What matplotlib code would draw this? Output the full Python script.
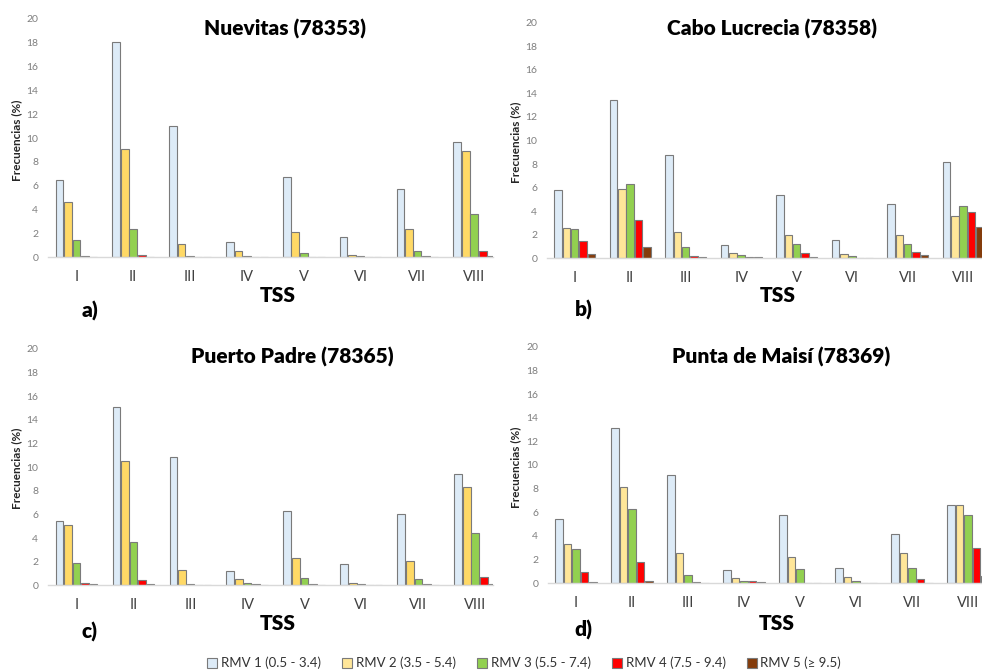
import matplotlib
matplotlib.use("Agg")
import matplotlib.pyplot as plt
import numpy as np

plt.rcParams["font.family"] = ["Lato", "DejaVu Sans"]

# ---------------------------------------------------------------------------
# Data: frequency (%) per TSS class, one list per RMV class
# ---------------------------------------------------------------------------
TSS = ["I", "II", "III", "IV", "V", "VI", "VII", "VIII"]
RMV_LABELS = ["RMV 1 (0.5 - 3.4)", "RMV 2 (3.5 - 5.4)", "RMV 3 (5.5 - 7.4)",
              "RMV 4 (7.5 - 9.4)", "RMV 5 (\u2265 9.5)"]

nuevitas_rmv1 = [6.5, 18.1, 11.0, 1.3, 6.7, 1.7, 5.7, 9.7]
nuevitas_rmv2 = [4.6, 9.1, 1.1, 0.5, 2.1, 0.2, 2.4, 8.9]
nuevitas_rmv3 = [1.45, 2.4, 0.14, 0.14, 0.34, 0.08, 0.56, 3.6]
nuevitas_rmv4 = [0.14, 0.2, 0.0, 0.0, 0.0, 0.0, 0.08, 0.56]
nuevitas_rmv5 = [0.0, 0.0, 0.0, 0.0, 0.0, 0.0, 0.0, 0.1]

cabo_rmv1 = [5.8, 13.4, 8.8, 1.15, 5.4, 1.55, 4.65, 8.2]
cabo_rmv2 = [2.6, 5.9, 2.2, 0.45, 2.0, 0.37, 2.0, 3.6]
cabo_rmv3 = [2.45, 6.3, 0.95, 0.25, 1.2, 0.17, 1.25, 4.4]
cabo_rmv4 = [1.5, 3.25, 0.2, 0.14, 0.42, 0.0, 0.5, 3.95]
cabo_rmv5 = [0.4, 1.0, 0.08, 0.14, 0.14, 0.0, 0.25, 2.65]

padre_rmv1 = [5.45, 15.1, 10.85, 1.2, 6.3, 1.8, 6.05, 9.4]
padre_rmv2 = [5.1, 10.5, 1.3, 0.55, 2.35, 0.2, 2.05, 8.3]
padre_rmv3 = [1.85, 3.65, 0.11, 0.2, 0.6, 0.08, 0.55, 4.4]
padre_rmv4 = [0.2, 0.45, 0.0, 0.08, 0.08, 0.0, 0.08, 0.7]
padre_rmv5 = [0.08, 0.08, 0.0, 0.0, 0.0, 0.0, 0.0, 0.1]

maisi_rmv1 = [5.4, 13.15, 9.15, 1.13, 5.8, 1.32, 4.2, 6.65]
maisi_rmv2 = [3.35, 8.1, 2.55, 0.45, 2.2, 0.56, 2.6, 6.6]
maisi_rmv3 = [2.87, 6.25, 0.73, 0.17, 1.18, 0.23, 1.32, 5.8]
maisi_rmv4 = [0.93, 1.77, 0.11, 0.17, 0.06, 0.06, 0.39, 2.95]
maisi_rmv5 = [0.08, 0.23, 0.0, 0.11, 0.0, 0.0, 0.06, 0.62]

# ---------------------------------------------------------------------------
# Styling
# ---------------------------------------------------------------------------
W, H = 982, 670
BLUE = "#DDEBF7"
YELLOW_DARK = "#FFD966"
YELLOW_LIGHT = "#FFE699"
GREEN = "#92D050"
RED = "#FF0000"
BROWN = "#843C0C"
EDGE = "#7A7A7A"


def px_rect(left, right, top, bottom):
    return [left / W, 1 - bottom / H, (right - left) / W, (bottom - top) / H]


def draw_panel(fig, rect, xr, series, colours):
    ax = fig.add_axes(rect)
    x = np.arange(len(TSS))
    pitch, width = 0.15, 0.135
    bars = []
    for i, (vals, col) in enumerate(zip(series, colours)):
        b = ax.bar(x + (i - 2) * pitch, vals, width=width, color=col,
                   edgecolor=EDGE, linewidth=0.8, zorder=2)
        bars.append(b)
    ax.set_xlim(-0.5, xr)
    ax.set_ylim(0, 20)
    ax.set_yticks(np.arange(0, 21, 2))
    ax.set_xticks(x)
    ax.set_xticklabels(TSS, fontsize=10.5, color="#404040")
    ax.tick_params(axis="x", length=0, pad=9)
    ax.tick_params(axis="y", length=0, pad=7, labelsize=7.5,
                   labelcolor="#7F7F7F")
    for s in ("top", "right", "left"):
        ax.spines[s].set_visible(False)
    ax.spines["bottom"].set_color("#D9D9D9")
    ax.spines["bottom"].set_linewidth(1.0)
    ax.patch.set_alpha(0)
    return ax, bars


fig = plt.figure(figsize=(W / 100, H / 100), dpi=100)

panels = [
    # rect (l, r, top, bottom), xr, data, yellow, title, title pos, letter, letter pos, TSS pos, ylabel pos
    (px_rect(48, 493, 19, 257.3), 7.33,
     [nuevitas_rmv1, nuevitas_rmv2, nuevitas_rmv3, nuevitas_rmv4, nuevitas_rmv5],
     YELLOW_DARK, "Nuevitas (78353)", (285, 29), "a)", (90, 311), (278, 295),
     (17, 140)),
    (px_rect(547, 982, 22.7, 258.3), 7.34,
     [cabo_rmv1, cabo_rmv2, cabo_rmv3, cabo_rmv4, cabo_rmv5],
     YELLOW_LIGHT, "Cabo Lucrecia (78358)", (772, 29), "b)", (584, 310), (778, 295),
     (516, 142)),
    (px_rect(48, 493, 349, 585.3), 7.31,
     [padre_rmv1, padre_rmv2, padre_rmv3, padre_rmv4, padre_rmv5],
     YELLOW_DARK, "Puerto Padre (78365)", (292, 357), "c)", (90, 632), (278, 623),
     (17, 468)),
    (px_rect(548, 982, 346.7, 583.3), 7.25,
     [maisi_rmv1, maisi_rmv2, maisi_rmv3, maisi_rmv4, maisi_rmv5],
     YELLOW_LIGHT, "Punta de Maisí (78369)", (781, 357), "d)", (583, 630), (777, 623),
     (516, 467)),
]

legend_bars = None
for rect, xr, series, yel, title, tpos, letter, lpos, tsspos, ypos in panels:
    colours = [BLUE, yel, GREEN, RED, BROWN]
    ax, bars = draw_panel(fig, rect, xr, series, colours)
    if yel == YELLOW_LIGHT and legend_bars is None:
        legend_bars = bars
    fig.text(tpos[0] / W, 1 - tpos[1] / H, title, ha="center", va="center",
             fontsize=15, fontweight="heavy")
    fig.text(lpos[0] / W, 1 - lpos[1] / H, letter, ha="center", va="center",
             fontsize=15, fontweight="heavy")
    fig.text(tsspos[0] / W, 1 - tsspos[1] / H, "TSS", ha="center", va="center",
             fontsize=15, fontweight="heavy")
    fig.text(ypos[0] / W, 1 - ypos[1] / H, "Frecuencias (%)", ha="center",
             va="center", rotation=90, fontsize=8.5, fontweight="bold",
             color="#262626")

fig.legend(legend_bars, RMV_LABELS, loc="center",
           bbox_to_anchor=(524 / W, 1 - 663 / H), ncol=5, frameon=False,
           fontsize=9.5, handlelength=0.75, handleheight=0.75,
           handletextpad=0.3, columnspacing=1.6, labelcolor="#333333")

fig.savefig("out.png", dpi=100)
